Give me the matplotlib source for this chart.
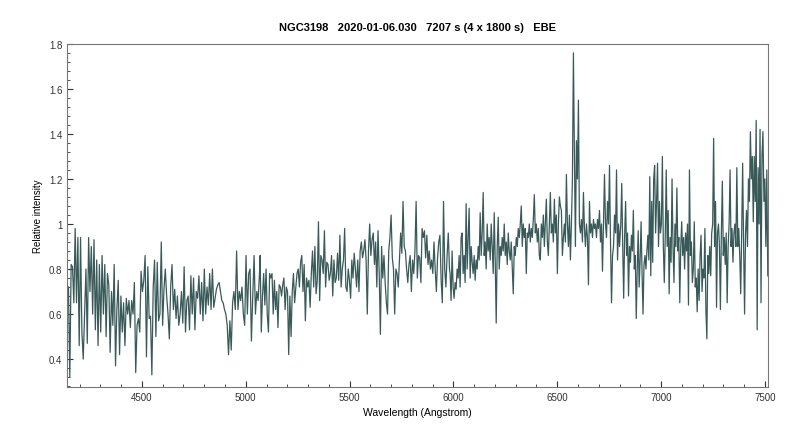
import numpy as np
import matplotlib
matplotlib.use("Agg")
import matplotlib.pyplot as plt
from matplotlib.ticker import MultipleLocator

title = "NGC3198   2020-01-06.030   7207 s (4 x 1800 s)   EBE"
xlabel = "Wavelength (Angstrom)"
ylabel = "Relative intensity"

# spectrum, in four pieces (start / end wavelength + flux)
seg1_range = (4146, 5066)
seg1_flux = [0.72, 0.32, 0.82, 0.81, 0.65, 0.98, 0.65, 0.94, 0.46, 0.94, 0.52, 0.4, 0.6, 0.8,
             0.47, 0.94, 0.7, 0.9, 0.6, 0.93, 0.53, 0.84, 0.46, 0.82, 0.52, 0.86, 0.6, 0.82,
             0.5, 0.78, 0.73, 0.43, 0.7, 0.55, 0.82, 0.37, 0.62, 0.75, 0.42, 0.68, 0.52, 0.65,
             0.46, 0.67, 0.6, 0.66, 0.54, 0.66, 0.6, 0.74, 0.34, 0.55, 0.58, 0.52, 0.79, 0.7,
             0.75, 0.86, 0.41, 0.81, 0.58, 0.59, 0.33, 0.72, 0.84, 0.5, 0.83, 0.57, 0.6, 0.92,
             0.55, 0.71, 0.8, 0.68, 0.6, 0.49, 0.72, 0.82, 0.62, 0.71, 0.58, 0.68, 0.55, 0.6,
             0.7, 0.56, 0.81, 0.52, 0.66, 0.68, 0.53, 0.77, 0.6, 0.76, 0.53, 0.7, 0.67, 0.77,
             0.6, 0.74, 0.57, 0.8, 0.6, 0.72, 0.64, 0.78, 0.62, 0.8, 0.63, 0.67, 0.71, 0.73,
             0.74, 0.7, 0.66, 0.65, 0.62, 0.6, 0.55, 0.42, 0.57, 0.44, 0.65, 0.7, 0.62, 0.88,
             0.62, 0.7, 0.66, 0.72, 0.6, 0.55, 0.86, 0.6, 0.78, 0.8, 0.48, 0.68, 0.86, 0.6,
             0.7, 0.66, 0.78]

seg2_range = (5069, 5981)
seg2_flux = [0.86, 0.52, 0.68, 0.78, 0.64, 0.8, 0.6, 0.52, 0.78, 0.76, 0.78, 0.6, 0.75, 0.62,
             0.7, 0.54, 0.73, 0.72, 0.68, 0.73, 0.76, 0.62, 0.72, 0.7, 0.42, 0.68, 0.5, 0.7,
             0.78, 0.65, 0.72, 0.78, 0.8, 0.72, 0.83, 0.86, 0.7, 0.82, 0.57, 0.76, 0.72, 0.75,
             0.63, 0.78, 0.88, 0.72, 0.9, 0.69, 0.75, 1.01, 0.66, 0.86, 0.84, 0.78, 0.97, 0.72,
             0.83, 0.82, 0.75, 0.78, 0.86, 0.68, 0.84, 0.74, 0.76, 0.87, 0.75, 0.95, 0.72, 0.8,
             0.84, 0.98, 0.72, 0.7, 0.8, 0.75, 0.67, 0.84, 0.76, 0.87, 0.8, 0.72, 0.84, 0.7,
             0.88, 0.92, 0.85, 0.88, 0.93, 0.84, 0.6, 0.88, 1.0, 0.86, 0.93, 0.96, 0.82, 0.92,
             0.72, 0.97, 0.78, 0.51, 0.9, 0.76, 0.86, 0.74, 0.65, 0.6, 0.88, 0.94, 1.04, 0.85,
             0.8, 0.6, 0.8, 0.78, 0.72, 0.84, 0.96, 0.87, 1.1, 0.9, 0.88, 0.8, 0.74, 0.82,
             0.86, 0.7, 0.84, 0.78, 0.88, 1.1, 0.76, 0.86, 0.85, 0.74, 0.98, 0.94, 0.97, 0.85,
             0.95, 0.82, 0.88, 0.8, 0.84, 0.78, 0.92, 0.8, 0.7, 0.85, 0.92, 0.95, 0.75, 0.65,
             1.1, 0.8, 0.72, 0.86, 0.96, 0.8]

seg3_range = (5984, 6800)
seg3_flux = [0.78, 0.66, 0.88, 0.72, 0.67, 0.74, 0.71, 0.8, 0.76, 0.86, 0.72, 0.94, 0.96, 0.78,
             0.86, 0.74, 1.09, 0.8, 0.94, 1.07, 0.76, 0.9, 0.83, 0.78, 0.86, 0.75, 0.84, 0.8,
             0.9, 0.84, 1.05, 0.86, 0.96, 1.14, 0.86, 0.92, 0.8, 1.0, 0.88, 0.94, 0.84, 1.0,
             0.9, 0.78, 1.05, 0.84, 0.56, 0.9, 1.03, 0.8, 0.9, 0.86, 0.94, 0.88, 1.0, 0.86,
             0.92, 0.82, 0.96, 0.88, 0.84, 0.92, 0.8, 0.69, 0.9, 0.86, 0.94, 0.9, 0.98, 0.94,
             1.0, 1.08, 0.9, 1.0, 0.94, 0.98, 0.78, 0.96, 0.94, 1.0, 0.92, 0.98, 0.94, 1.02,
             1.13, 0.96, 1.0, 0.92, 0.98, 0.86, 0.84, 1.0, 0.94, 1.04, 0.9, 1.0, 1.11, 0.92,
             0.86, 1.0, 1.14, 0.96, 1.0, 0.92, 1.11, 0.96, 1.04, 0.78, 1.0, 1.12, 1.08, 1.06,
             0.86, 0.94, 1.0, 0.92, 1.22, 1.0, 0.9, 1.04, 0.84, 1.0, 1.2, 1.76, 1.3, 0.9,
             1.37, 1.2, 1.55, 1.0, 0.96, 1.02, 0.92, 1.14, 0.98, 0.9, 1.0, 0.94, 0.73, 1.1,
             0.96, 1.0, 0.94, 1.02, 0.98, 1.0, 0.94, 1.02, 0.98, 1.06, 0.92, 1.0, 0.79, 1.0,
             1.22, 1.0, 0.94, 1.1, 1.0, 1.26, 0.92, 0.65, 0.86, 0.9, 1.04, 0.96, 1.24, 0.84,
             1.0, 0.9]

seg4_range = (6806, 7514)
seg4_flux = [1.0, 1.18, 0.9, 0.67, 0.95, 1.1, 0.86, 0.96, 0.68, 0.9, 0.83, 0.95, 0.88, 1.06,
             0.8, 0.86, 0.58, 0.8, 0.97, 0.72, 0.84, 1.01, 0.78, 0.6, 0.82, 0.86, 0.8, 0.88,
             0.95, 0.84, 1.21, 0.77, 1.1, 0.83, 1.2, 1.26, 0.96, 1.1, 1.27, 0.9, 1.1, 0.96,
             1.0, 1.3, 0.9, 0.74, 0.95, 1.24, 0.9, 1.06, 0.69, 0.94, 0.83, 1.2, 0.9, 0.74,
             1.0, 0.9, 1.16, 0.88, 0.94, 0.65, 0.9, 1.01, 0.86, 0.94, 0.8, 0.96, 0.88, 1.0,
             0.64, 1.24, 0.86, 0.92, 0.74, 0.8, 1.01, 0.72, 0.76, 0.61, 0.8, 0.66, 0.86, 0.95,
             0.7, 0.8, 0.76, 0.98, 0.62, 0.49, 0.86, 0.78, 0.9, 0.77, 0.96, 1.0, 1.38, 0.9,
             1.1, 0.63, 0.96, 1.0, 0.9, 0.62, 0.96, 1.19, 0.86, 0.94, 0.82, 0.96, 0.65, 0.9,
             1.0, 1.24, 0.9, 0.98, 0.83, 0.96, 1.0, 0.9, 1.25, 0.9, 0.98, 0.86, 0.69, 0.96,
             1.27, 0.9, 0.6, 0.96, 1.06, 0.9, 1.2, 1.1, 1.41, 1.2, 1.3, 1.01, 1.3, 1.1,
             1.46, 0.53, 1.25, 1.0, 1.42, 0.65, 1.3, 1.41, 1.1, 1.2, 0.9, 1.24, 0.77]

segments = [(seg1_range, seg1_flux), (seg2_range, seg2_flux),
            (seg3_range, seg3_flux), (seg4_range, seg4_flux)]
wave = np.concatenate([np.linspace(r[0], r[1], len(f)) for r, f in segments])
flux = np.concatenate([f for r, f in segments])

plt.rcParams['font.family'] = ['Liberation Sans Narrow', 'Liberation Sans', 'DejaVu Sans']

fig = plt.figure(figsize=(8, 4.35), dpi=100)
ax = fig.add_axes([0.084, 0.108, 0.876, 0.789])
ax.plot(wave, flux, color='#3a5a5a', lw=0.9)

ax.set_xlim(4140, 7515)
ax.set_ylim(0.276, 1.8)
ax.xaxis.set_major_locator(MultipleLocator(500))
ax.xaxis.set_minor_locator(MultipleLocator(100))
ax.yaxis.set_major_locator(MultipleLocator(0.2))
ax.yaxis.set_minor_locator(MultipleLocator(0.04))
ax.yaxis.set_major_formatter(plt.FuncFormatter(lambda v, p: "%g" % round(v, 2)))
ax.tick_params(which='both', direction='in', labelsize=7, colors='#333333')
ax.tick_params(which='major', length=4)
ax.tick_params(which='minor', length=2)
for s in ax.spines.values():
    s.set_color('#777777')

ax.set_title(title, fontsize=8, fontweight='bold', pad=10)
ax.set_xlabel(xlabel, fontsize=7.5)
ax.set_ylabel(ylabel, fontsize=7)

fig.savefig("out.png", dpi=100)
